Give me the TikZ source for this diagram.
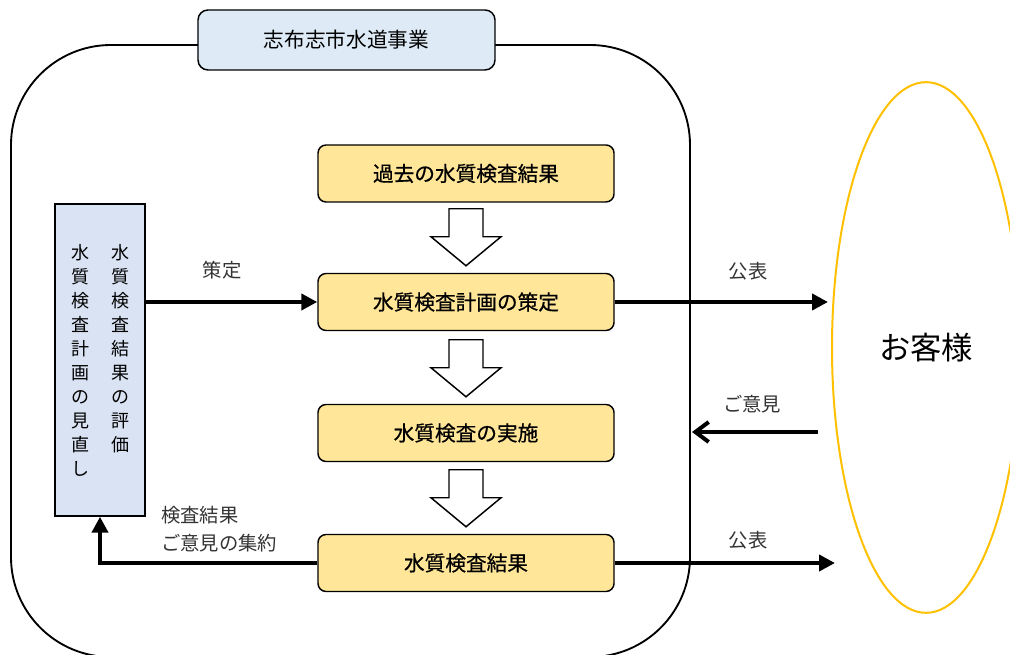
\documentclass[tikz,border=0pt]{standalone}
\usepackage{fontspec}
\setmainfont{Noto Sans CJK JP}
\newfontfamily\boxfont[FakeBold=0.6]{Noto Sans CJK JP}
\usetikzlibrary{arrows.meta,calc}
\definecolor{boxyellow}{HTML}{FFE699}
\definecolor{boxblue}{HTML}{DAE3F3}
\definecolor{titleblue}{HTML}{DEEBF7}
\definecolor{custgold}{HTML}{FFC000}
\definecolor{labelgray}{HTML}{333333}
\begin{document}
\begin{tikzpicture}[x=0.75pt,y=-0.75pt,
  stepbox/.style={draw=black,line width=1.1pt,fill=boxyellow,rounded corners=6pt,
    minimum width=222pt,minimum height=42.75pt,inner sep=0pt,
    font=\boxfont\fontsize{15.5}{18}\selectfont},
  titlebox/.style={draw=black,line width=1.1pt,fill=titleblue,rounded corners=7.5pt,
    minimum width=222.75pt,minimum height=45pt,inner sep=0pt,
    font=\fontsize{15.5}{18}\selectfont},
  evalbox/.style={draw=black,line width=1.1pt,fill=boxblue,
    minimum width=67.5pt,minimum height=234pt,inner sep=0pt},
  vtext/.style={anchor=north,inner sep=0pt,align=center,
    font=\fontsize{13.5}{18}\selectfont},
  conn/.style={line width=3pt},
  tri/.style={-{Triangle[length=12pt,width=12pt]}},
  lbl/.style={text=labelgray,inner sep=0pt,font=\fontsize{14.5}{21}\selectfont},
  hollowdown/.pic={\draw[line width=1.1pt,fill=white]
    (-17,-57) -- (17,-57) -- (17,-29) -- (35,-29) -- (0,0) -- (-35,-29) -- (-17,-29) -- cycle;}
]
\useasboundingbox (0,0) rectangle (1010,655);
% outer organisation frame
\draw[line width=1.4pt,rounded corners=75pt] (11,45) rectangle (690,657);
% customers
\draw[custgold,line width=1.5pt] (926,347.5) ellipse [x radius=70.5pt,y radius=199pt];
\node[font=\fontsize{23.5}{28}\selectfont] (cust) at (926,348) {お客様};
% title
\node[titlebox] (title) at (346.5,40) {志布志市水道事業};
% flow boxes
\node[stepbox] (b1) at (466,173.5) {過去の水質検査結果};
\node[stepbox] (b2) at (466,302) {水質検査計画の策定};
\node[stepbox] (b3) at (466,433) {水質検査の実施};
\node[stepbox] (b4) at (466,563) {水質検査結果};
% evaluation box
\node[evalbox] (eval) at (100,360) {};
\node[vtext] (evr) at (120,244) {水\\質\\検\\査\\結\\果\\の\\評\\価};
\node[vtext] (evl) at (80,244) {水\\質\\検\\査\\計\\画\\の\\見\\直\\し};
% hollow arrows
\pic at ($(b2.north)+(0,-7)$) {hollowdown};
\pic at ($(b3.north)+(0,-7)$) {hollowdown};
\pic at ($(b4.north)+(0,-7)$) {hollowdown};
% connectors
\coordinate (pub1) at (828,302);
\coordinate (opS) at (818,432);
\coordinate (opE) at (692,432);
\coordinate (pub2) at (835,563);
\draw[conn,tri] (eval.east |- b2.west) -- (b2.west);
\draw[conn,tri] (b2.east) -- (pub1);
\draw[conn,-{Straight Barb[length=10pt,width=15pt]}] (opS) -- (opE);
\draw[conn,tri] (b4.east) -- (pub2);
\draw[conn,tri] (b4.west) -| (eval.south);
% labels
\node[lbl] (l1) at (222,270) {策定};
\node[lbl] (l2) at (748,271) {公表};
\node[lbl] (l3) at (752,404) {ご意見};
\node[lbl] (l4) at (748,540) {公表};
\node[lbl,anchor=north west,align=left] (l5) at (161,506) {検査結果\\ご意見の集約};
\end{tikzpicture}
\end{document}
